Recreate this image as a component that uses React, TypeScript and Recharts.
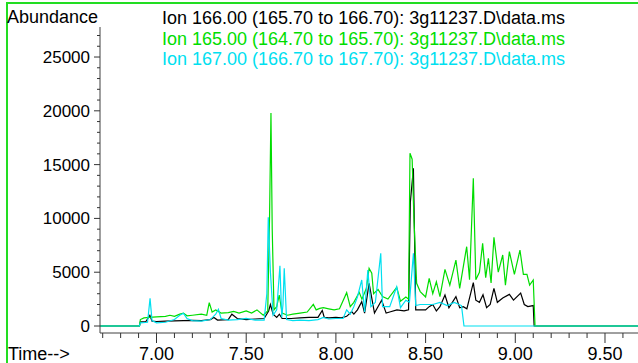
import { LineChart, Line, XAxis, YAxis } from 'recharts';

// ion traces as [time (min), abundance]
const ion166: [number, number][] = [
  [6.685, 0], [6.905, 0], [6.91, 380], [6.94, 400], [6.963, 1000], [6.975, 450], [7.0, 420],
  [7.05, 450], [7.1, 480], [7.15, 500], [7.2, 520], [7.25, 500], [7.3, 600], [7.32, 800],
  [7.34, 550], [7.4, 600], [7.42, 1100], [7.45, 700], [7.5, 600], [7.55, 650], [7.6, 700],
  [7.625, 1400], [7.635, 2000], [7.65, 1100], [7.67, 800], [7.685, 1100], [7.7, 700],
  [7.75, 700], [7.8, 750], [7.85, 800], [7.9, 800], [7.924, 1450], [7.935, 800], [7.96, 750],
  [8.0, 800], [8.03, 750], [8.06, 900], [8.088, 1330], [8.1, 1100], [8.12, 1500], [8.144, 2260],
  [8.16, 1200], [8.185, 3970], [8.2, 2600], [8.215, 1200], [8.255, 2400], [8.28, 1200],
  [8.3, 1300], [8.34, 1500], [8.38, 1400], [8.405, 1500], [8.415, 11500], [8.432, 14650],
  [8.445, 1500], [8.47, 1500], [8.5, 1500], [8.52, 1800], [8.54, 2000], [8.56, 1400],
  [8.58, 1800], [8.608, 2880], [8.63, 1700], [8.669, 2730], [8.69, 1700], [8.71, 1800],
  [8.73, 1600], [8.766, 4030], [8.78, 2400], [8.8, 2200], [8.82, 2900], [8.84, 1700],
  [8.86, 2000], [8.881, 3500], [8.9, 2200], [8.93, 2600], [8.967, 2940], [8.99, 2400],
  [9.03, 3050], [9.05, 2000], [9.07, 1800], [9.1, 1900], [9.105, 0], [9.684, 0],
];

const ion165: [number, number][] = [
  [6.685, 0], [6.905, 0], [6.91, 600], [6.93, 750], [6.96, 800], [7.0, 850], [7.05, 900],
  [7.075, 1000], [7.1, 900], [7.13, 1100], [7.15, 1200], [7.17, 950], [7.2, 1000],
  [7.25, 1100], [7.28, 1000], [7.294, 2170], [7.31, 1300], [7.33, 1500], [7.36, 1200],
  [7.4, 1250], [7.43, 1350], [7.46, 1200], [7.5, 1400], [7.53, 1200], [7.56, 1500],
  [7.595, 1000], [7.62, 1400], [7.63, 10000], [7.638, 19800], [7.645, 9000], [7.655, 1500],
  [7.67, 1800], [7.684, 2880], [7.7, 1200], [7.73, 1000], [7.76, 1100], [7.8, 1200],
  [7.84, 1300], [7.874, 2010], [7.89, 1500], [7.91, 1640], [7.93, 1700], [7.96, 1600],
  [7.99, 1500], [8.02, 1600], [8.06, 3100], [8.08, 1800], [8.1, 2200], [8.13, 3130],
  [8.145, 2500], [8.17, 3500], [8.185, 5360], [8.2, 4900], [8.21, 3000], [8.235, 3400],
  [8.26, 2730], [8.29, 2500], [8.339, 3600], [8.36, 2300], [8.39, 2700], [8.405, 2500],
  [8.413, 16050], [8.425, 15500], [8.435, 10000], [8.45, 3970], [8.47, 3200], [8.5, 2700],
  [8.52, 4430], [8.54, 3000], [8.56, 4100], [8.58, 2730], [8.608, 5270], [8.635, 3800],
  [8.669, 6130], [8.69, 3500], [8.72, 6500], [8.729, 7370], [8.745, 4300], [8.766, 13730],
  [8.78, 4300], [8.8, 5000], [8.818, 7680], [8.835, 4500], [8.85, 6300], [8.865, 4000],
  [8.881, 8240], [8.905, 5000], [8.93, 6600], [8.945, 3800], [8.967, 6910], [8.995, 4800],
  [9.026, 7060], [9.045, 4800], [9.065, 4800], [9.08, 3800], [9.1, 4280], [9.11, 0], [9.684, 0],
];

const ion167: [number, number][] = [
  [6.685, 0], [6.905, 0], [6.91, 300], [6.95, 350], [6.964, 2570], [6.975, 500], [7.0, 300],
  [7.05, 350], [7.1, 600], [7.13, 1000], [7.15, 1180], [7.17, 700], [7.2, 500], [7.25, 450],
  [7.3, 600], [7.33, 1100], [7.345, 1550], [7.36, 700], [7.4, 550], [7.45, 600], [7.5, 700],
  [7.55, 550], [7.6, 550], [7.615, 3000], [7.623, 10100], [7.635, 5000], [7.65, 1000],
  [7.67, 1500], [7.688, 5600], [7.698, 800], [7.705, 2000], [7.712, 5360], [7.725, 600],
  [7.76, 500], [7.8, 550], [7.85, 500], [7.9, 600], [7.93, 800], [7.96, 650], [8.0, 700],
  [8.04, 700], [8.06, 1500], [8.08, 1100], [8.1, 1800], [8.12, 2700], [8.144, 4280],
  [8.16, 1300], [8.178, 5200], [8.195, 1800], [8.22, 2200], [8.25, 6750], [8.26, 1800],
  [8.3, 1800], [8.339, 3650], [8.36, 1700], [8.39, 2400], [8.41, 2200], [8.432, 6750],
  [8.445, 1900], [8.47, 2000], [8.5, 2000], [8.54, 2000], [8.58, 2200], [8.62, 1900],
  [8.66, 2200], [8.7, 1900], [8.714, 0], [9.684, 0],
];

const legendLines = [
  'Ion 166.00 (165.70 to 166.70): 3g11237.D\\data.ms',
  'Ion 165.00 (164.70 to 165.70): 3g11237.D\\data.ms',
  'Ion 167.00 (166.70 to 167.70): 3g11237.D\\data.ms',
];

const xTicks = [6.7, 6.8, 6.9, 7.0, 7.1, 7.2, 7.3, 7.4, 7.5, 7.6, 7.7, 7.8, 7.9, 8.0, 8.1, 8.2,
  8.3, 8.4, 8.5, 8.6, 8.7, 8.8, 8.9, 9.0, 9.1, 9.2, 9.3, 9.4, 9.5, 9.6];
const xLabels = [7.0, 7.5, 8.0, 8.5, 9.0, 9.5];
const yTicks = [0, 1000, 2000, 3000, 4000, 5000, 6000, 7000, 8000, 9000, 10000, 11000, 12000,
  13000, 14000, 15000, 16000, 17000, 18000, 19000, 20000, 21000, 22000, 23000, 24000, 25000,
  26000, 27000];
const yLabels = [0, 5000, 10000, 15000, 20000, 25000];

const BLACK = '#000000';
const GREEN = '#00dd00';
const CYAN = '#00e0f0';
const FONT = '"Liberation Sans", Arial, sans-serif';
const seriesColors = [BLACK, GREEN, CYAN];

const toRows = (arr: [number, number][]) => arr.map(([t, v]) => ({ t, v }));

const XTick = (props: any) => {
  const { x, y, payload } = props;
  const v = payload.value;
  const major = xLabels.some((l) => Math.abs(l - v) < 1e-6);
  return (
    <g>
      <line x1={x} x2={x} y1={y} y2={y + (major ? 10 : 5)} stroke="#333" />
      {major && (
        <text x={x} y={y + 27} textAnchor="middle" fontSize={18} fontFamily={FONT} fill="#000">
          {v.toFixed(2)}
        </text>
      )}
    </g>
  );
};

const YTick = (props: any) => {
  const { x, y, payload } = props;
  const v = payload.value;
  const major = yLabels.includes(v);
  return (
    <g>
      <line x1={x - (major ? 6 : 3)} x2={x} y1={y} y2={y} stroke="#333" />
      {major && (
        <text x={x - 10} y={y + 6} textAnchor="end" fontSize={17} fontFamily={FONT} fill="#000">
          {v}
        </text>
      )}
    </g>
  );
};

export default function App() {
  const traces = [ion166, ion165, ion167];
  return (
    <div style={{ position: 'fixed', left: 0, top: 0, width: 638, height: 363, overflow: 'hidden', background: '#fff' }}>
      <div
        style={{
          position: 'absolute', left: 6, top: 2, width: 700, height: 400,
          borderTop: '2px solid #22dd22', borderLeft: '2px solid #22dd22',
        }}
      />
      <div style={{ position: 'absolute', left: 0, top: 0 }}>
        <LineChart width={638} height={363} margin={{ top: 27, right: 0, bottom: 0, left: 0 }}>
          <XAxis
            dataKey="t"
            type="number"
            domain={[6.685, 9.684]}
            allowDataOverflow
            ticks={xTicks}
            interval={0}
            height={30}
            tickSize={0}
            tickMargin={0}
            tickLine={false}
            tick={<XTick />}
            stroke="#404040"
          />
          <YAxis
            type="number"
            domain={[-650, 27790]}
            allowDataOverflow
            ticks={yTicks}
            interval={0}
            width={100}
            tickSize={0}
            tickMargin={0}
            tickLine={false}
            tick={<YTick />}
            stroke="#404040"
          />
          {traces.map((tr, i) => (
            <Line
              key={i}
              data={toRows(tr)}
              dataKey="v"
              type="linear"
              stroke={seriesColors[i]}
              strokeWidth={1.2}
              dot={false}
              isAnimationActive={false}
            />
          ))}
        </LineChart>
      </div>
      <svg width={638} height={363} style={{ position: 'absolute', left: 0, top: 0, pointerEvents: 'none' }}>
        <text x={7} y={23} fontSize={18} fontFamily={FONT} fill="#000">Abundance</text>
        {legendLines.map((s, i) => (
          <text key={s} x={162} y={24 + i * 20.5} fontSize={18} fontFamily={FONT} fill={seriesColors[i]}>
            {s}
          </text>
        ))}
        <text x={8} y={360} fontSize={18} fontFamily={FONT} fill="#000">Time--&gt;</text>
      </svg>
    </div>
  );
}
